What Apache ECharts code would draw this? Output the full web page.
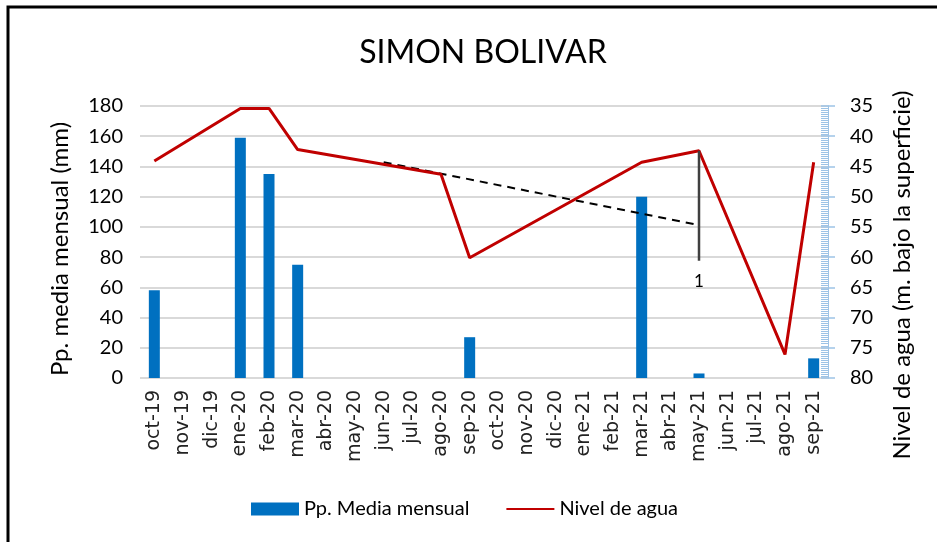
<!DOCTYPE html>
<html>
<head>
<meta charset="utf-8">
<script src="https://cdn.jsdelivr.net/npm/echarts@6/dist/echarts.min.js"></script>
<style>
  html, body { margin: 0; padding: 0; background: #fff; }
  #chart { width: 937px; height: 542px; }
</style>
</head>
<body>
<div id="chart"></div>
<script>
// meses (eje x)
var meses = ['oct-19', 'nov-19', 'dic-19', 'ene-20', 'feb-20', 'mar-20', 'abr-20', 'may-20',
  'jun-20', 'jul-20', 'ago-20', 'sep-20', 'oct-20', 'nov-20', 'dic-20', 'ene-21',
  'feb-21', 'mar-21', 'abr-21', 'may-21', 'jun-21', 'jul-21', 'ago-21', 'sep-21'];
// precipitacion media mensual (mm)
var ppMedia = [58, null, null, 159, 135, 75, null, null, null, null, null, 27,
  null, null, null, null, null, 120, null, 3, null, null, null, 13];
// nivel de agua (m. bajo la superficie)
var nivelAgua = [44.1, null, null, 35.4, 35.4, 42.2, null, null, null, null, 46.3, 60.1,
  null, null, null, null, null, 44.3, null, 42.4, null, null, 76.1, 44.3];
// linea de tendencia (extremos)
var tendencia = [['jun-20', 44.3], ['may-21', 54.7]];
// marca vertical en may-21
var marca = [['may-21', 42.4], ['may-21', 60.6]];

var chart = echarts.init(document.getElementById('chart'));
var azulEje = '#9DC3E6';

var option = {
  animation: false,
  backgroundColor: '#fff',
  title: {
    text: 'SIMON BOLIVAR',
    left: 478,
    textAlign: 'center',
    top: 32,
    textStyle: { fontFamily: 'Lato', fontSize: 32, fontWeight: 'normal', color: '#000' }
  },
  graphic: [{
    type: 'rect',
    shape: { x: 8, y: 7, width: 1000, height: 1000 },
    style: { fill: 'none', stroke: '#000', lineWidth: 3 },
    z: -1
  }],
  legend: {
    left: 246,
    top: 494,
    itemWidth: 48,
    itemHeight: 13,
    itemGap: 36,
    textStyle: { fontFamily: 'Lato', fontSize: 20, color: '#000' },
    data: [
      { name: 'Pp. Media mensual', icon: 'rect' },
      { name: 'Nivel de agua', itemStyle: { opacity: 0 } }
    ]
  },
  grid: { left: 140, right: 109, top: 106, bottom: 164 },
  xAxis: {
    type: 'category',
    data: meses,
    axisLine: { show: false },
    axisTick: { show: false },
    axisLabel: {
      interval: 0, rotate: 90, margin: 12,
      fontFamily: 'DejaVu Sans', fontSize: 19, color: '#222'
    }
  },
  yAxis: [{
    type: 'value',
    min: 0, max: 180, interval: 20,
    name: 'Pp. media mensual (mm)',
    nameLocation: 'middle',
    nameGap: 68,
    nameTextStyle: { fontFamily: 'Lato', fontSize: 24, color: '#000', padding: [0, 14, 0, 0] },
    axisLine: { show: false },
    axisTick: { show: false },
    axisLabel: { fontFamily: 'Lato', fontSize: 20, color: '#000', margin: 17 },
    splitLine: { lineStyle: { color: '#D9D9D9', width: 2 } }
  }, {
    type: 'value',
    position: 'right',
    inverse: true,
    min: 35, max: 80, interval: 5,
    name: 'Nivel de agua (m. bajo la superficie)',
    nameLocation: 'middle',
    nameGap: 62,
    nameTextStyle: { fontFamily: 'Lato', fontSize: 24, color: '#000', padding: [0, 66, 0, 0] },
    axisLine: { show: true, lineStyle: { color: azulEje, width: 1 } },
    axisTick: { show: true, length: 7, lineStyle: { color: azulEje, width: 1.5 } },
    axisLabel: { fontFamily: 'Lato', fontSize: 20, color: '#000', margin: 22 },
    splitLine: { show: false }
  }, {
    type: 'value',
    position: 'right',
    inverse: true,
    min: 35, max: 80, interval: 5,
    axisLine: { show: true, lineStyle: { color: azulEje, width: 1 } },
    axisTick: { show: true, inside: true, length: 7, lineStyle: { color: azulEje, width: 1.5 } },
    minorTick: { show: true, splitNumber: 15, length: 7, lineStyle: { color: azulEje, width: 1 } },
    axisLabel: { show: false },
    splitLine: { show: false }
  }],
  series: [{
    name: 'Pp. Media mensual',
    type: 'bar',
    yAxisIndex: 0,
    barWidth: 11,
    itemStyle: { color: '#0070C0' },
    data: ppMedia
  }, {
    name: 'tendencia',
    type: 'line',
    yAxisIndex: 1,
    symbol: 'none',
    lineStyle: { color: '#000', width: 2, type: [8, 6] },
    data: tendencia
  }, {
    name: 'Nivel de agua',
    type: 'line',
    yAxisIndex: 1,
    symbol: 'none',
    connectNulls: true,
    lineStyle: { color: '#C00000', width: 3 },
    itemStyle: { color: '#C00000' },
    data: nivelAgua
  }, {
    name: 'marca',
    type: 'line',
    yAxisIndex: 1,
    symbol: 'circle',
    symbolSize: 0,
    lineStyle: { color: '#404040', width: 2.5 },
    label: {
      show: true, position: 'bottom', distance: 12,
      fontFamily: 'Lato', fontSize: 17, color: '#000',
      formatter: function (p) { return p.dataIndex === 1 ? '1' : ''; }
    },
    data: marca
  }]
};

chart.setOption(option);
window.addEventListener('resize', function () { chart.resize(); });
</script>
</body>
</html>
